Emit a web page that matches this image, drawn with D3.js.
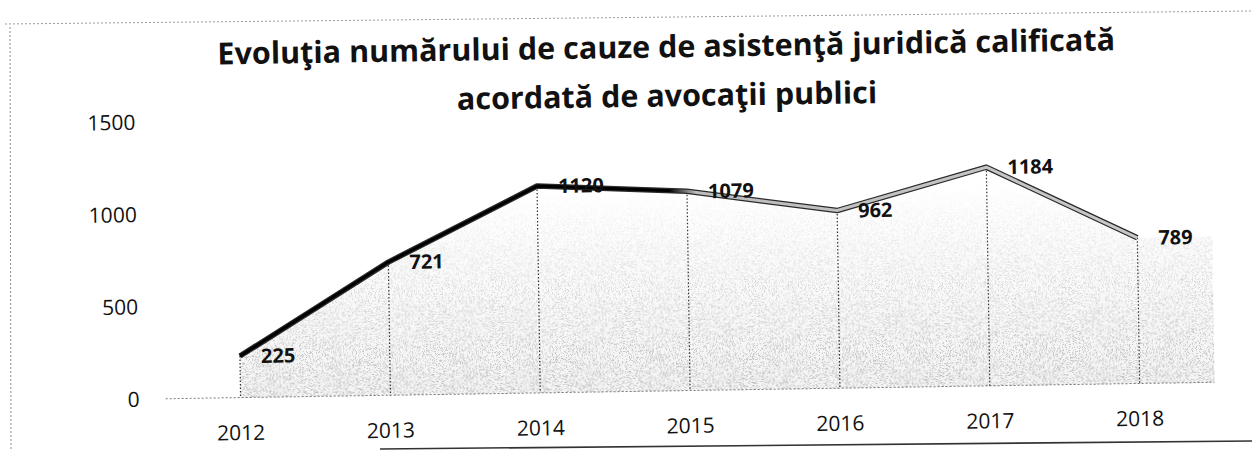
<!DOCTYPE html>
<html>
<head>
<meta charset="utf-8">
<script src="https://cdn.jsdelivr.net/npm/d3@7"></script>
<style>
  body { margin: 0; background: #fff; }
  svg { display: block; }
  text { font-family: "Open Sans", "Liberation Sans", sans-serif; fill: #111; }
</style>
</head>
<body>
<svg id="chart" width="1252" height="450"></svg>
<script>
// Yearly number of qualified legal aid cases handled by public lawyers
const years = ["2012", "2013", "2014", "2015", "2016", "2017", "2018"];
const cases = [225, 721, 1120, 1079, 962, 1184, 789];
const yTicks = [0, 500, 1000, 1500];
const titleLines = [
  "Evoluţia numărului de cauze de asistenţă juridică calificată",
  "acordată de avocaţii publici"
];

const W = 1252, H = 450;
const plot = { left: 163, right: 1212, top: 114.5, bottom: 391.5 };

const svg = d3.select("#chart");
const defs = svg.append("defs");

// outer frame of the chart object
const frame = svg.append("g").attr("fill", "none");
frame.append("path").attr("d", d3.line()([[5, 24], [W, 11]]))
  .attr("stroke", "#9a9a9a").attr("stroke-width", 1).attr("stroke-dasharray", "2,2");
frame.append("path").attr("d", d3.line()([[10, 27], [11, H]]))
  .attr("stroke", "#8a8a8a").attr("stroke-width", 1).attr("stroke-dasharray", "2,2");
frame.append("path").attr("d", d3.line()([[380, 449], [W, 441]]))
  .attr("stroke", "#333").attr("stroke-width", 1.6);

const g = svg.append("g").attr("transform", "rotate(-0.9 626 225)");

const x = d3.scalePoint().domain(years).range([plot.left, plot.right]).padding(0.5);
const y = d3.scaleLinear().domain([0, 1500]).range([plot.bottom, plot.top]);

const data = years.map((yr, i) => ({ year: yr, value: cases[i] }));

// density of the stippled fill grows towards the baseline
const areaGrad = defs.append("linearGradient").attr("id", "areaFill")
  .attr("gradientUnits", "userSpaceOnUse")
  .attr("x1", 0).attr("x2", 0).attr("y1", y(1100)).attr("y2", y(0));
areaGrad.append("stop").attr("offset", 0).attr("stop-color", "#000").attr("stop-opacity", 0);
areaGrad.append("stop").attr("offset", 0.3).attr("stop-color", "#000").attr("stop-opacity", 0.3);
areaGrad.append("stop").attr("offset", 1).attr("stop-color", "#000").attr("stop-opacity", 0.9);

// stipple texture for the area
const stipple = defs.append("filter").attr("id", "stipple")
  .attr("x", 0).attr("y", 0).attr("width", 1).attr("height", 1);
stipple.append("feTurbulence").attr("type", "fractalNoise")
  .attr("baseFrequency", 1.3).attr("numOctaves", 1).attr("seed", 4).attr("result", "noise");
stipple.append("feColorMatrix").attr("in", "noise").attr("type", "matrix")
  .attr("values", "0 0 0 0 0.45  0 0 0 0 0.45  0 0 0 0 0.45  10 0 0 0 -5.3")
  .attr("result", "dots");
stipple.append("feComposite").attr("in", "dots").attr("in2", "SourceGraphic").attr("operator", "in");

// stroke colour: solid black for the first years, light grey afterwards
const lineGrad = defs.append("linearGradient").attr("id", "lineStroke")
  .attr("gradientUnits", "userSpaceOnUse")
  .attr("x1", x("2012")).attr("x2", x("2018")).attr("y1", 0).attr("y2", 0);
const span = x("2018") - x("2012");
const off = yr => (x(yr) - x("2012")) / span;
lineGrad.append("stop").attr("offset", 0).attr("stop-color", "#000");
lineGrad.append("stop").attr("offset", off("2015") - 0.02).attr("stop-color", "#000");
lineGrad.append("stop").attr("offset", off("2015") + 0.01).attr("stop-color", "#bdbdbd");
lineGrad.append("stop").attr("offset", 1).attr("stop-color", "#c8c8c8");

// a faint flat tint under the stipple
const areaPts = data.map(d => ({ px: x(d.year), value: d.value }))
  .concat([{ px: plot.right, value: cases[cases.length - 1] }]);
const area = d3.area().x(d => d.px).y0(y(0)).y1(d => y(d.value));
g.append("path").datum(areaPts).attr("d", area)
  .attr("fill", "url(#areaFill)").attr("opacity", 0.05);
g.append("path").datum(areaPts).attr("d", area)
  .attr("fill", "url(#areaFill)").attr("filter", "url(#stipple)");

// baseline
g.append("line")
  .attr("x1", plot.left).attr("x2", plot.right)
  .attr("y1", y(0)).attr("y2", y(0))
  .attr("stroke", "#7a7a7a").attr("stroke-width", 1).attr("stroke-dasharray", "2,2");

// drop lines
g.selectAll(".drop").data(data).join("line")
  .attr("class", "drop")
  .attr("x1", d => x(d.year)).attr("x2", d => x(d.year))
  .attr("y1", d => y(d.value)).attr("y2", y(0))
  .attr("stroke", "#333").attr("stroke-width", 1.2).attr("stroke-dasharray", "1.5,2");

// the line: dark outline with a lighter core
const line = d3.line().x(d => x(d.year)).y(d => y(d.value));
g.append("path").datum(data).attr("d", line)
  .attr("fill", "none").attr("stroke", "#2a2a2a").attr("stroke-width", 5.5)
  .attr("stroke-linejoin", "round");
g.append("path").datum(data).attr("d", line)
  .attr("fill", "none").attr("stroke", "url(#lineStroke)").attr("stroke-width", 3)
  .attr("stroke-linejoin", "round");

// value labels
g.selectAll(".val").data(data).join("text")
  .attr("class", "val")
  .attr("x", d => x(d.year) + 21)
  .attr("y", d => y(d.value))
  .attr("dy", "0.36em")
  .attr("font-size", 20).attr("font-weight", 700)
  .text(d => d.value);

// y axis labels
g.selectAll(".ytick").data(yTicks).join("text")
  .attr("class", "ytick")
  .attr("x", plot.left - 26)
  .attr("y", d => y(d))
  .attr("dy", "0.36em")
  .attr("text-anchor", "end")
  .attr("font-size", 21)
  .text(d => d);

// x axis labels
g.selectAll(".xtick").data(years).join("text")
  .attr("class", "xtick")
  .attr("x", d => x(d))
  .attr("y", y(0) + 35)
  .attr("dy", "0.36em")
  .attr("text-anchor", "middle")
  .attr("font-size", 21)
  .text(d => d);

// title
g.selectAll(".title").data(titleLines).join("text")
  .attr("class", "title")
  .attr("x", 669)
  .attr("y", (d, i) => 58 + i * 49)
  .attr("text-anchor", "middle")
  .attr("font-size", 30.5).attr("font-weight", 700)
  .text(d => d);
</script>
</body>
</html>
